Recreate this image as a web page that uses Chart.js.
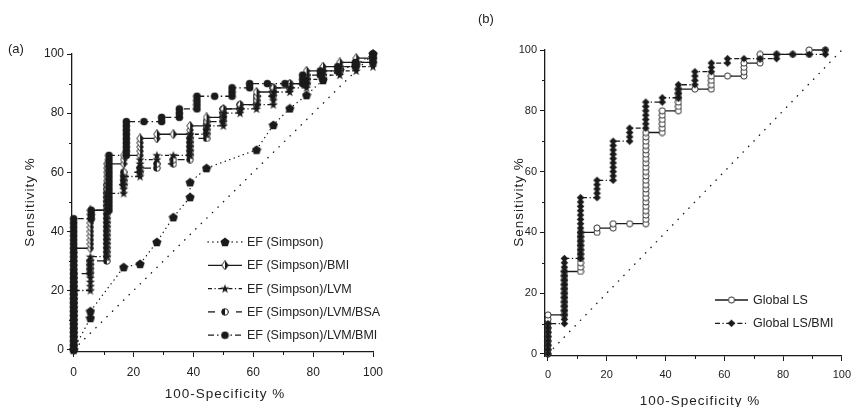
<!DOCTYPE html>
<html>
<head>
<meta charset="utf-8">
<script src="https://cdn.jsdelivr.net/npm/chart.js@4.4.0/dist/chart.umd.min.js"></script>
<style>
    html, body { margin: 0; padding: 0; background: #fff; }
    #wrap { position: relative; width: 858px; height: 407px; overflow: hidden; }
    .panel { position: absolute; top: 0; }
    #panelA { left: 0; }
    #panelB { left: 430px; }
    .tag { position: absolute; font: 13px "Liberation Sans", Arial, sans-serif; color: #222; }
</style>
</head>
<body>
<div id="wrap">
    <div class="panel" id="panelA"><canvas id="chartA" width="430" height="407"></canvas></div>
    <div class="panel" id="panelB"><canvas id="chartB" width="428" height="412"></canvas></div>
    <div class="tag" style="left:8px;top:41px">(a)</div>
    <div class="tag" style="left:478px;top:11px">(b)</div>
</div>
<script>
// every marker is one patient; sensitivity = cases found / all cases
const N_CASES = 70;

// panel (a): 100-specificity steps (18 controls, 17 for the LVM/BMI model)
const specA = [0, 5.6, 11.1, 16.7, 22.2, 27.8, 33.3, 38.9, 44.4, 50, 55.6, 61.1, 66.7, 72.2, 77.8, 83.3, 88.9, 94.4, 100];
const specA17 = [0, 5.9, 11.8, 17.6, 23.5, 29.4, 35.3, 41.2, 47.1, 52.9, 58.8, 64.7, 70.6, 76.5, 82.4, 88.2, 94.1, 100];
// cumulative true positives reached at each step
const tpBmi    = [24, 33, 44, 46, 50, 51, 51, 53, 55, 57, 58, 61, 62, 63, 66, 67, 68, 69, 70];
const tpLvm    = [14, 22, 37, 41, 45, 46, 46, 51, 53, 56, 57, 58, 61, 62, 64, 65, 66, 67, 70];
const tpLvmBsa = [18, 21, 39, 42, 43, 44, 45, 50, 54, 57, 58, 60, 62, 63, 65, 66, 67, 68, 70];
const tpLvmBmi = [31, 33, 46, 54, 54, 55, 57, 60, 60, 62, 63, 63, 63, 65, 66, 67, 68, 70];
// EF (Simpson) has tied thresholds, so its points are kept as read
const efX = [0, 5.6, 5.6, 16.7, 22.2, 27.8, 33.3, 38.9, 38.9, 44.4, 61.1, 66.7, 72.2, 77.8, 83.3, 88.9, 94.4, 100];
const efY = [0, 10.7, 13, 27.9, 29, 36.4, 44.8, 51.6, 56.6, 61.4, 67.6, 76, 81.6, 86.1, 91.2, 94.6, 96.5, 100];

// panel (b)
const specB = [0, 5.6, 11.1, 16.7, 22.2, 27.8, 33.3, 38.9, 44.4, 50, 55.6, 61.1, 66.7, 72.2, 77.8, 83.3, 88.9, 94.4];
const tpLs    = [9, 19, 28, 29, 30, 30, 51, 56, 61, 61, 64, 64, 67, 69, 69, 69, 70, 70];
const tpLsBmi = [7, 22, 36, 40, 49, 52, 58, 59, 62, 65, 67, 68, 68, 68, 69, 69, 69, 70];

const chance = [0, 100];
const tickValues = [0, 20, 40, 60, 80, 100];
const minorValues = [10, 30, 50, 70, 90];

const INK = '#1a1a1a';
const FONT = '"Liberation Sans", Arial, sans-serif';

function rocPoints(xs, tops) {
    const pts = [];
    let prev = 0;
    xs.forEach((x, i) => {
        for (let c = prev; c <= tops[i]; c++) pts.push({ x: x, y: c / N_CASES * 100 });
        prev = tops[i];
    });
    return pts;
}

function pairPoints(xs, ys) {
    return xs.map((x, i) => ({ x: x, y: ys[i] }));
}

// marker images
function marker(w, h, draw) {
    const c = document.createElement('canvas');
    c.width = w; c.height = h;
    const g = c.getContext('2d');
    g.lineWidth = 0.9;
    g.strokeStyle = INK;
    g.fillStyle = INK;
    draw(g, w, h);
    return c;
}

const pentagon = marker(10, 10, (g) => {
    g.beginPath();
    for (let k = 0; k < 5; k++) {
        const a = -Math.PI / 2 + k * 2 * Math.PI / 5;
        g.lineTo(5 + 4.8 * Math.cos(a), 5.4 + 4.8 * Math.sin(a));
    }
    g.closePath(); g.fill();
});

const star = marker(10, 10, (g) => {
    g.beginPath();
    for (let k = 0; k < 10; k++) {
        const a = -Math.PI / 2 + k * Math.PI / 5;
        const r = k % 2 === 0 ? 4.8 : 1.9;
        g.lineTo(5 + r * Math.cos(a), 5.3 + r * Math.sin(a));
    }
    g.closePath(); g.fill();
});

const halfDiamond = marker(8, 10, (g) => {
    const path = () => { g.beginPath(); g.moveTo(4, 0.5); g.lineTo(7.3, 5); g.lineTo(4, 9.5); g.lineTo(0.7, 5); g.closePath(); };
    path(); g.fillStyle = '#fff'; g.fill();
    g.save(); g.beginPath(); g.rect(4, 0, 4, 10); g.clip(); path(); g.fillStyle = INK; g.fill(); g.restore();
    path(); g.stroke();
});

const halfCircle = marker(8, 8, (g) => {
    g.beginPath(); g.arc(4, 4, 3.3, 0, Math.PI * 2); g.fillStyle = '#fff'; g.fill();
    g.beginPath(); g.arc(4, 4, 3.3, Math.PI / 2, Math.PI * 1.5); g.closePath(); g.fillStyle = INK; g.fill();
    g.beginPath(); g.arc(4, 4, 3.3, 0, Math.PI * 2); g.stroke();
});

const dot = marker(9, 9, (g) => {
    g.beginPath(); g.arc(4.5, 4.5, 3.8, 0, Math.PI * 2); g.fill();
});

const ring = marker(8, 8, (g) => {
    g.beginPath(); g.arc(4, 4, 3.1, 0, Math.PI * 2); g.fillStyle = '#fff'; g.fill(); g.stroke();
});

const blackDiamond = marker(9, 9, (g) => {
    g.beginPath(); g.moveTo(4.5, 0.7); g.lineTo(8.3, 4.5); g.lineTo(4.5, 8.3); g.lineTo(0.7, 4.5); g.closePath(); g.fill();
});

function series(label, data, pointStyle, dash, order, cap) {
    return {
        label: label,
        data: data,
        showLine: true,
        borderColor: INK,
        backgroundColor: INK,
        borderWidth: 1.3,
        borderDash: dash,
        borderCapStyle: cap || 'butt',
        pointStyle: pointStyle,
        pointRadius: 4,
        tension: 0,
        clip: false,
        order: order
    };
}

function chanceLine(order) {
    return {
        data: pairPoints(chance, chance),
        showLine: true,
        borderColor: INK,
        borderWidth: 1.4,
        borderDash: [0.3, 7.5],
        borderCapStyle: 'round',
        pointRadius: 0,
        clip: false,
        order: order
    };
}

// short minor tick marks at the odd tens
const minorTicks = {
    id: 'minorTicks',
    afterDraw(chart) {
        const { ctx, scales: { x, y } } = chart;
        ctx.save();
        ctx.strokeStyle = INK;
        ctx.lineWidth = 1;
        minorValues.forEach(v => {
            const px = Math.round(x.getPixelForValue(v)) + 0.5;
            ctx.beginPath(); ctx.moveTo(px, x.top); ctx.lineTo(px, x.top + 3); ctx.stroke();
            const py = Math.round(y.getPixelForValue(v)) + 0.5;
            ctx.beginPath(); ctx.moveTo(y.right - 3, py); ctx.lineTo(y.right, py); ctx.stroke();
        });
        ctx.restore();
    }
};

// axis titles with the loose letter spacing of the original
const axisTitles = {
    id: 'axisTitles',
    afterDraw(chart, args, opts) {
        const { ctx } = chart;
        const sc = chart.options.scales;
        ctx.save();
        ctx.font = opts.font;
        ctx.fillStyle = '#222';
        ctx.textAlign = 'center';
        ctx.textBaseline = 'middle';
        ctx.letterSpacing = opts.spacing;
        ctx.fillText(sc.x.title.text, opts.x[0], opts.x[1]);
        ctx.translate(opts.y[0], opts.y[1]);
        ctx.rotate(-Math.PI / 2);
        ctx.fillText(sc.y.title.text, 0, 0);
        ctx.restore();
    }
};

// legend drawn inside the plot: line sample with the marker in its middle
const sampleLegend = {
    id: 'sampleLegend',
    afterDraw(chart, args, opts) {
        const ctx = chart.ctx;
        ctx.save();
        ctx.font = opts.font;
        ctx.fillStyle = '#222';
        ctx.textBaseline = 'middle';
        let row = 0;
        chart.data.datasets.forEach(ds => {
            if (!ds.label) return;
            const y = opts.top + row * opts.rowGap;
            ctx.strokeStyle = ds.borderColor;
            ctx.lineWidth = ds.borderWidth;
            ctx.lineCap = ds.borderCapStyle;
            ctx.setLineDash(ds.borderDash || []);
            ctx.beginPath();
            ctx.moveTo(opts.left, y);
            ctx.lineTo(opts.left + opts.sample, y);
            ctx.stroke();
            ctx.setLineDash([]);
            const img = ds.pointStyle;
            ctx.drawImage(img, opts.left + opts.sample / 2 - img.width / 2, y - img.height / 2);
            ctx.fillText(ds.label, opts.left + opts.sample + opts.gap, y + 0.5);
            row++;
        });
        ctx.restore();
    }
};

function makeOptions(cfg) {
    const tickFont = { family: FONT, size: cfg.tickSize };
    return {
        responsive: false,
        animation: false,
        events: [],
        layout: { padding: { left: 0, top: cfg.top, right: cfg.right, bottom: 0 } },
        scales: {
            x: {
                type: 'linear',
                min: cfg.xMin,
                max: 100,
                afterBuildTicks: s => { s.ticks = tickValues.map(v => ({ value: v })); },
                afterFit: s => { s.height = cfg.xHeight; },
                ticks: { color: '#222', font: tickFont, padding: cfg.xPad, maxRotation: 0 },
                grid: { drawOnChartArea: false, tickLength: 5, color: INK },
                border: { color: INK, width: 1.3 },
                title: { display: false, text: '100-Specificity %' }
            },
            y: {
                type: 'linear',
                min: cfg.yMin,
                max: 100,
                afterBuildTicks: s => { s.ticks = tickValues.map(v => ({ value: v })); },
                afterFit: s => { s.width = cfg.yWidth; },
                ticks: { color: '#222', font: tickFont, padding: 3 },
                grid: { drawOnChartArea: false, tickLength: 5, color: INK },
                border: { color: INK, width: 1.3 },
                title: { display: false, text: 'Sensitivity %' }
            }
        },
        plugins: {
            legend: { display: false },
            tooltip: { enabled: false },
            sampleLegend: cfg.legend,
            axisTitles: cfg.titles
        }
    };
}

new Chart(document.getElementById('chartA'), {
    type: 'scatter',
    data: {
        datasets: [
            series('EF (Simpson)', pairPoints(efX, efY), pentagon, [0.3, 4.5], 4, 'round'),
            series('EF (Simpson)/BMI', rocPoints(specA, tpBmi), halfDiamond, [], 2),
            series('EF (Simpson)/LVM', rocPoints(specA, tpLvm), star, [4, 2.5, 1.2, 2.5], 1),
            series('EF (Simpson)/LVM/BSA', rocPoints(specA, tpLvmBsa), halfCircle, [7, 7], 3),
            series('EF (Simpson)/LVM/BMI', rocPoints(specA17, tpLvmBmi), dot, [6, 3, 1.5, 3], 0),
            chanceLine(5)
        ]
    },
    options: makeOptions({
        top: 54, right: 57, xMin: -0.55, yMin: -0.8,
        xHeight: 55, yWidth: 72, tickSize: 12, xPad: 8,
        legend: { left: 208, top: 242, rowGap: 23.3, sample: 34, gap: 5, font: '12.5px ' + FONT },
        titles: { x: [225, 394], y: [30, 202], font: '13.5px ' + FONT, spacing: '1px' }
    }),
    plugins: [minorTicks, sampleLegend, axisTitles]
});

new Chart(document.getElementById('chartB'), {
    type: 'scatter',
    data: {
        datasets: [
            series('Global LS', rocPoints(specB, tpLs), ring, [], 1),
            series('Global LS/BMI', rocPoints(specB, tpLsBmi), blackDiamond, [5, 2.5, 1.2, 2.5], 0),
            chanceLine(2)
        ]
    },
    options: makeOptions({
        top: 50, right: 9, xMin: -1, yMin: -0.66,
        xHeight: 56, yWidth: 115, tickSize: 11, xPad: 7,
        legend: { left: 285, top: 300, rowGap: 23.3, sample: 33, gap: 5, font: '12.5px ' + FONT },
        titles: { x: [270, 401], y: [89, 202], font: '13.5px ' + FONT, spacing: '1px' }
    }),
    plugins: [minorTicks, sampleLegend, axisTitles]
});
</script>
</body>
</html>
